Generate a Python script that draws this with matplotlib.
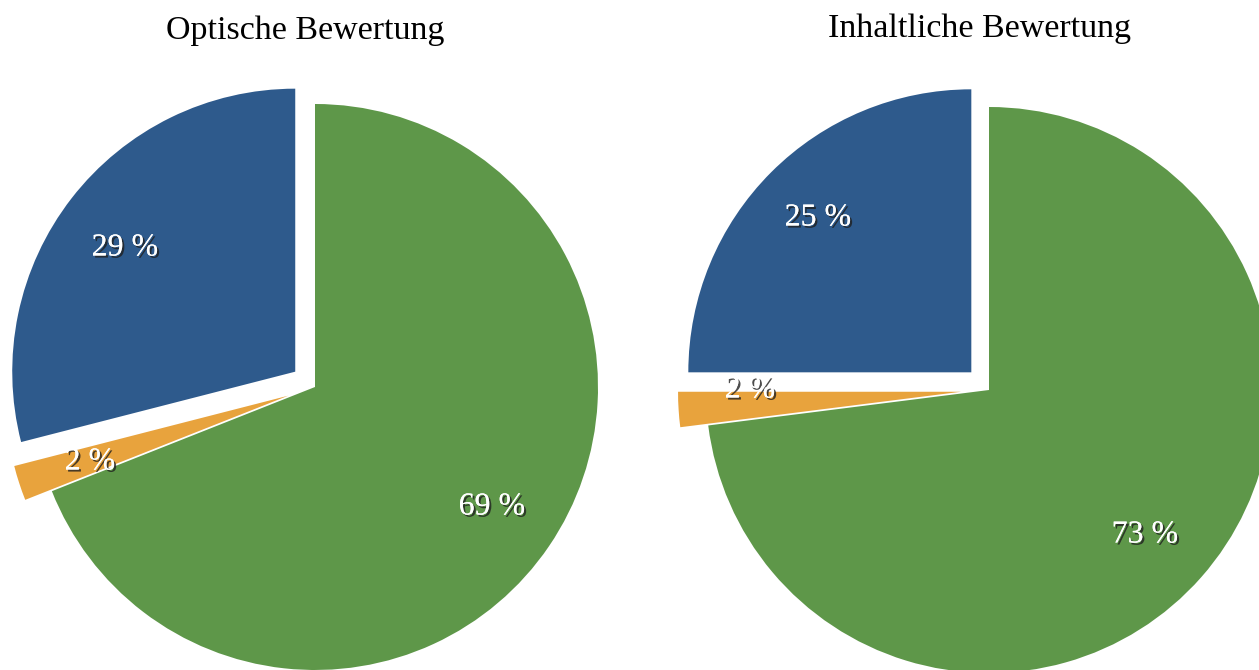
import matplotlib
matplotlib.use("Agg")
import matplotlib.pyplot as plt
import matplotlib.patheffects as pe

titles = ["Optische Bewertung", "Inhaltliche Bewertung"]
categories = ["gut", "mittel", "schlecht"]
values_optisch = [69, 2, 29]
values_inhalt = [73, 2, 25]
labels_optisch = ["69 %", "2 %", "29 %"]
labels_inhalt = ["73 %", "2 %", "25 %"]

colors = ["#5E9749", "#E8A33D", "#2E5A8C"]
W, H = 1259, 670

fig = plt.figure(figsize=(W / 100, H / 100), dpi=100)
ax = fig.add_axes([0, 0, 1, 1])

shadow = [pe.withSimplePatchShadow(offset=(1.5, -1.5), shadow_rgbFace="#202020", alpha=0.8), pe.Normal()]

pies = [
    (values_optisch, labels_optisch, (315, H - 387), 283, titles[0], (305, H - 31),
     [(492, H - 507), (90, H - 462), (125, H - 248)]),
    (values_inhalt, labels_inhalt, (989, H - 390), 283, titles[1], (980, H - 29),
     [(1145, H - 535), (750, H - 390), (818, H - 218)]),
]

for vals, labs, center, r, title, tpos, lpos in pies:
    ax.pie(vals, colors=colors, startangle=90, counterclock=False,
           center=center, radius=r, explode=[0, 28, 25],
           wedgeprops=dict(linewidth=0), frame=True)
    for lab, (x, y) in zip(labs, lpos):
        ax.text(x, y, lab, color="white", fontsize=23, family="Liberation Serif",
                ha="center", va="center", path_effects=shadow)
    ax.text(tpos[0], tpos[1], title, fontsize=24.5, family="Liberation Serif",
            ha="center", va="center", color="black")

ax.set_xlim(0, W)
ax.set_ylim(0, H)
ax.set_aspect("equal")
ax.axis("off")
fig.savefig("out.png", dpi=100)
